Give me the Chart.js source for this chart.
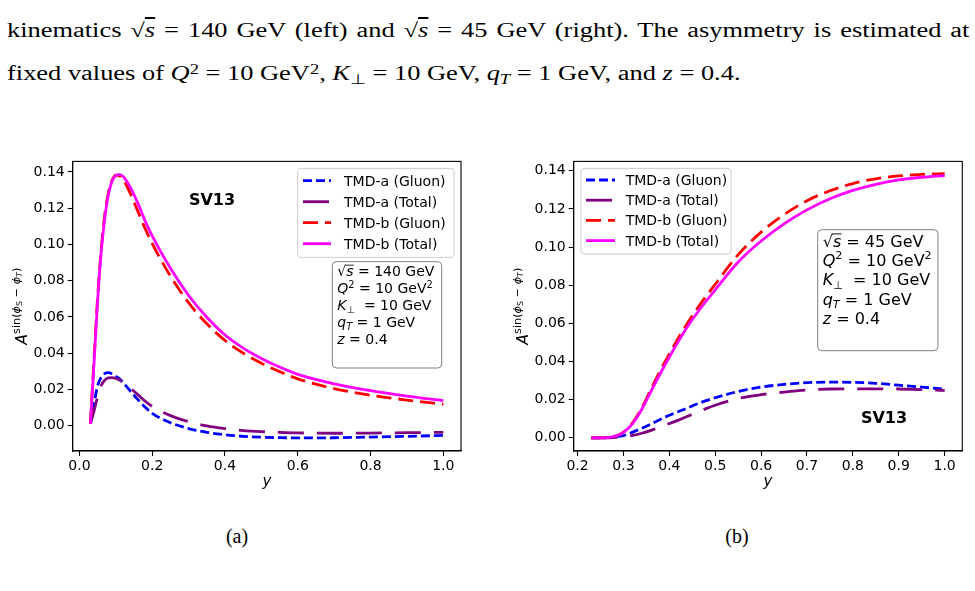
<!DOCTYPE html>
<html>
<head>
<meta charset="utf-8">
<script src="https://cdn.jsdelivr.net/npm/chart.js@4.4.1/dist/chart.umd.min.js"></script>
<style>
  body { margin: 0; background: #fff; width: 975px; height: 591px; overflow: hidden; position: relative; }
  .txt { position: absolute; left: 7px; white-space: nowrap; font-family: 'Liberation Serif', serif; font-size: 20px; line-height: 26px; color: #000; transform-origin: 0 0; }
  .txt sup { font-size: 70%; vertical-align: 0.45em; line-height: 0; }
  .txt sub { font-size: 70%; vertical-align: -0.25em; line-height: 0; }
  .ov { text-decoration: overline; }
  .cap { position: absolute; width: 80px; text-align: center; font-family: 'Liberation Serif', serif; font-size: 20px; line-height: 26px; }
  canvas { position: absolute; }
</style>
</head>
<body>
<div class="txt" id="line1" style="top:17px">kinematics √<span class="ov"><i>s</i></span> = 140 GeV (left) and √<span class="ov"><i>s</i></span> = 45 GeV (right). The asymmetry is estimated at</div>
<div class="txt" id="line2" style="top:60px">fixed values of <i>Q</i><sup>2</sup> = 10 GeV<sup>2</sup>, <i>K</i><sub>⊥</sub> = 10 GeV, <i>q</i><sub><i>T</i></sub> = 1 GeV, and <i>z</i> = 0.4.</div>

<canvas id="panelA" width="480" height="350" style="left:0;top:150px"></canvas>
<canvas id="panelB" width="485" height="350" style="left:490px;top:150px"></canvas>

<div class="cap" style="left:197px;top:523px">(a)</div>
<div class="cap" style="left:697px;top:523px">(b)</div>

<script>
// panel (a): sqrt(s) = 140 GeV
const yGridA = [0.03, 0.04, 0.05, 0.06, 0.07, 0.08, 0.09, 0.10, 0.11, 0.12, 0.14, 0.16, 0.18, 0.20, 0.25, 0.30, 0.35, 0.40, 0.45, 0.50, 0.55, 0.60, 0.70, 0.80, 0.90, 1.00]
const tmdaGluonA = [0.001, 0.012, 0.022, 0.0268, 0.0288, 0.0293, 0.0285, 0.0272, 0.0258, 0.0238, 0.0190, 0.0145, 0.0103, 0.0068, 0.0016, -0.0016, -0.0037, -0.0050, -0.0059, -0.0064, -0.0066, -0.0068, -0.0067, -0.0063, -0.0059, -0.0054]
const tmdaTotalA = [0.001, 0.008, 0.016, 0.0222, 0.0252, 0.0264, 0.0265, 0.0260, 0.0252, 0.0240, 0.0207, 0.0172, 0.0136, 0.0106, 0.0055, 0.0022, -0.0002, -0.0017, -0.0027, -0.0033, -0.0037, -0.0040, -0.0042, -0.0041, -0.0039, -0.0037]
const tmdbGluonA = [0.001, 0.036, 0.071, 0.098, 0.117, 0.129, 0.1355, 0.1382, 0.1378, 0.1358, 0.128, 0.1185, 0.109, 0.1005, 0.0825, 0.0678, 0.0562, 0.0470, 0.0400, 0.0344, 0.0298, 0.0258, 0.0204, 0.0168, 0.0141, 0.0118]
const tmdbTotalA = [0.001, 0.034, 0.069, 0.096, 0.115, 0.128, 0.135, 0.138, 0.1385, 0.1375, 0.1315, 0.123, 0.1132, 0.1047, 0.0868, 0.0718, 0.0598, 0.0500, 0.0428, 0.0371, 0.0323, 0.0283, 0.0231, 0.0193, 0.0163, 0.0138]

// panel (b): sqrt(s) = 45 GeV
const yGridB = [0.23, 0.25, 0.27, 0.29, 0.30, 0.32, 0.34, 0.36, 0.38, 0.40, 0.42, 0.44, 0.46, 0.48, 0.50, 0.55, 0.60, 0.65, 0.70, 0.75, 0.80, 0.85, 0.90, 0.95, 1.00]
const tmdaGluonB = [0.0, 0.0, 0.0002, 0.0008, 0.0012, 0.0030, 0.0050, 0.0073, 0.0096, 0.0118, 0.0138, 0.0157, 0.0177, 0.0195, 0.0210, 0.0243, 0.0266, 0.0280, 0.0289, 0.0292, 0.0291, 0.0286, 0.0276, 0.0266, 0.0255]
const tmdaTotalB = [0.0, 0.0, 0.0, 0.0003, 0.0006, 0.0013, 0.0024, 0.0039, 0.0057, 0.0075, 0.0093, 0.0113, 0.0133, 0.0153, 0.0171, 0.0206, 0.0226, 0.0240, 0.0251, 0.0256, 0.0257, 0.0257, 0.0256, 0.0253, 0.0248]
const tmdbGluonB = [0.0, 0.0, 0.0003, 0.0016, 0.0030, 0.0080, 0.0158, 0.0255, 0.0352, 0.0440, 0.0525, 0.0603, 0.0675, 0.0742, 0.0805, 0.0960, 0.1078, 0.1170, 0.1243, 0.1295, 0.1333, 0.1358, 0.1373, 0.1381, 0.1385]
const tmdbTotalB = [0.0, 0.0, 0.0003, 0.0015, 0.0029, 0.0075, 0.0150, 0.0244, 0.0336, 0.0424, 0.0507, 0.0585, 0.0653, 0.0716, 0.0776, 0.0922, 0.1032, 0.1122, 0.1195, 0.1253, 0.1297, 0.1329, 0.1352, 0.1366, 0.1375]

const seriesLabels = ['TMD-a (Gluon)', 'TMD-a (Total)', 'TMD-b (Gluon)', 'TMD-b (Total)']
const seriesColors = ['#0000ff', '#800080', '#ff0000', '#ff00ff']
const seriesDashes = [[9, 4], [26, 13], [15, 7], []]

const xTicksA = [0.0, 0.2, 0.4, 0.6, 0.8, 1.0]
const xTicksB = [0.2, 0.3, 0.4, 0.5, 0.6, 0.7, 0.8, 0.9, 1.0]
const yTicks = [0.00, 0.02, 0.04, 0.06, 0.08, 0.10, 0.12, 0.14]

const FONT = '"DejaVu Sans"'

function fontOf(r, size) {
  return (r.b ? 'bold ' : '') + (r.i ? 'italic ' : '') + (size * (r.s || 1)).toFixed(2) + 'px ' + FONT
}

function runsWidth(ctx, runs, size) {
  let w = 0
  for (const r of runs) { ctx.font = fontOf(r, size); w += ctx.measureText(r.t).width }
  return w
}

function drawRuns(ctx, x, y, runs, size) {
  let cx = x
  for (const r of runs) {
    ctx.font = fontOf(r, size)
    const w = ctx.measureText(r.t).width
    const yy = y + (r.dy || 0) * size
    ctx.fillText(r.t, cx, yy)
    if (r.bar) {
      ctx.save()
      ctx.lineWidth = size * 0.06
      ctx.beginPath()
      ctx.moveTo(cx - size * 0.05, yy - size * 0.8)
      ctx.lineTo(cx + w + size * 0.02, yy - size * 0.8)
      ctx.stroke()
      ctx.restore()
    }
    cx += w
  }
}

function infoLines(rootS) {
  return [
    [{ t: '√' }, { t: 's', i: 1, bar: 1 }, { t: ' = ' + rootS + ' GeV' }],
    [{ t: 'Q', i: 1 }, { t: '2', s: 0.7, dy: -0.42 }, { t: ' = 10 GeV' }, { t: '2', s: 0.7, dy: -0.42 }],
    [{ t: 'K', i: 1 }, { t: '⊥', s: 0.7, dy: 0.22 }, { t: '  = 10 GeV' }],
    [{ t: 'q', i: 1 }, { t: 'T', i: 1, s: 0.7, dy: 0.22 }, { t: ' = 1 GeV' }],
    [{ t: 'z', i: 1 }, { t: ' = 0.4' }]
  ]
}

const yTitleRuns = [
  { t: 'A', i: 1, s: 1.05 },
  { t: 'sin(', s: 0.75, dy: -0.45 },
  { t: 'ϕ', i: 1, s: 0.75, dy: -0.45 },
  { t: 'S', s: 0.53, dy: -0.32 },
  { t: ' − ', s: 0.75, dy: -0.45 },
  { t: 'ϕ', i: 1, s: 0.75, dy: -0.45 },
  { t: 'T', i: 1, s: 0.53, dy: -0.32 },
  { t: ')', s: 0.75, dy: -0.45 }
]

function roundBox(ctx, x, y, w, h, r, fill, stroke) {
  ctx.beginPath()
  ctx.roundRect(x, y, w, h, r)
  ctx.fillStyle = fill
  ctx.fill()
  ctx.strokeStyle = stroke
  ctx.lineWidth = 1
  ctx.stroke()
}

// frame, legend, parameter box, tag and axis titles, matplotlib style
const panelDecor = {
  id: 'panelDecor',
  afterDraw(chart, args, o) {
    const ctx = chart.ctx
    const a = chart.chartArea
    ctx.save()
    ctx.textBaseline = 'alphabetic'
    ctx.fillStyle = '#000'
    ctx.strokeStyle = '#000'

    // axes frame
    ctx.lineWidth = 1.1
    ctx.strokeRect(a.left, a.top, a.right - a.left, a.bottom - a.top)

    // legend
    const L = o.legend
    const lx = L.fromRight ? a.right - L.dx - L.w : a.left + L.dx
    const ly = a.top + L.dy
    roundBox(ctx, lx, ly, L.w, L.h, 3, 'rgba(255,255,255,0.8)', '#cccccc')
    chart.data.datasets.forEach((ds, i) => {
      const cy = ly + L.first + i * L.step
      ctx.save()
      ctx.strokeStyle = ds.borderColor
      ctx.lineWidth = ds.borderWidth
      ctx.setLineDash(ds.borderDash || [])
      ctx.beginPath()
      ctx.moveTo(lx + L.sx, cy)
      ctx.lineTo(lx + L.sx + L.sl, cy)
      ctx.stroke()
      ctx.restore()
      ctx.fillStyle = '#000'
      ctx.font = L.size + 'px ' + FONT
      ctx.fillText(ds.label, lx + L.tx, cy + L.size * 0.36)
    })

    // parameter box
    const B = o.info
    const bx = a.left + B.dx
    const by = a.top + B.dy
    roundBox(ctx, bx, by, B.w, B.h, 4, '#ffffff', '#808080')
    ctx.fillStyle = '#000'
    ctx.strokeStyle = '#000'
    infoLines(B.rootS).forEach((runs, i) => {
      drawRuns(ctx, bx + B.pad, by + B.first + i * B.step, runs, B.size)
    })

    // SV13 tag
    ctx.font = 'bold 16px ' + FONT
    ctx.textAlign = 'center'
    ctx.fillText('SV13', o.tag.x, o.tag.y)

    // x title
    ctx.font = 'italic 15px ' + FONT
    ctx.fillText('y', (a.left + a.right) / 2, o.xTitleY)
    ctx.textAlign = 'left'

    // y title, rotated
    ctx.translate(o.yTitleX, (a.top + a.bottom) / 2)
    ctx.rotate(-Math.PI / 2)
    const w = runsWidth(ctx, yTitleRuns, 15)
    drawRuns(ctx, -w / 2, 0, yTitleRuns, 15)
    ctx.restore()
  }
}

function makeDatasets(grid, cols) {
  return cols.map((vals, i) => ({
    label: seriesLabels[i],
    data: grid.map((g, k) => ({ x: g, y: vals[k] })),
    borderColor: seriesColors[i],
    borderDash: seriesDashes[i],
    borderWidth: 2.8,
    pointRadius: 0,
    fill: false,
    cubicInterpolationMode: 'monotone',
    order: 3 - i
  }))
}

function axis(min, max, ticks, digits, size, isX) {
  return {
    type: 'linear',
    min: min,
    max: max,
    afterBuildTicks: s => { s.ticks = ticks.map(v => ({ value: v })) },
    afterFit: s => { if (isX) s.height = size; else s.width = size },
    ticks: {
      font: { family: 'DejaVu Sans', size: 14 },
      color: '#000',
      padding: isX ? 2 : 3,
      maxRotation: 0,
      autoSkip: false,
      callback: v => Math.abs(v) < 1e-9 ? (0).toFixed(digits) : v.toFixed(digits)
    },
    grid: { drawOnChartArea: false, color: '#000', tickLength: 5, tickWidth: 1.1 },
    border: { color: '#000', width: 1.1 }
  }
}

function buildPanel(id, grid, cols, xr, xTicks, yr, yAxisW, padRight, decor) {
  return new Chart(document.getElementById(id), {
    type: 'line',
    data: { datasets: makeDatasets(grid, cols) },
    options: {
      responsive: false,
      animation: false,
      events: [],
      layout: { padding: { top: 10.7, right: padRight, left: 0, bottom: 0 } },
      plugins: { legend: { display: false }, tooltip: { enabled: false }, panelDecor: decor },
      scales: {
        x: axis(xr[0], xr[1], xTicks, 1, 49, true),
        y: axis(yr[0], yr[1], yTicks, 2, yAxisW, false)
      }
    },
    plugins: [panelDecor]
  })
}

buildPanel('panelA', yGridA, [tmdaGluonA, tmdaTotalA, tmdbGluonA, tmdbTotalA],
  [-0.0185, 1.0485], xTicksA, [-0.014, 0.1458], 72.7, 19, {
    legend: { fromRight: true, dx: 7, dy: 7, w: 156.3, h: 89, first: 12.3, step: 21, sx: 5.3, sl: 28, tx: 46.3, size: 14 },
    info: { rootS: '140', dx: 259.6, dy: 100.3, w: 109.4, h: 106.3, pad: 5, first: 14.7, step: 17, size: 14 },
    tag: { x: 212, y: 55 },
    xTitleY: 336,
    yTitleX: 27
  })

buildPanel('panelB', yGridB, [tmdaGluonB, tmdaTotalB, tmdbGluonB, tmdbTotalB],
  [0.1915, 1.0385], xTicksB, [-0.0069, 0.1449], 83.7, 12.7, {
    legend: { fromRight: false, dx: 7.3, dy: 7, w: 150, h: 85.6, first: 11.6, step: 20.2, sx: 5, sl: 29, tx: 44.7, size: 14 },
    info: { rootS: '45', dx: 244, dy: 68.3, w: 120.3, h: 121, pad: 5, first: 17, step: 19.3, size: 16 },
    tag: { x: 394, y: 272.7 },
    xTitleY: 336,
    yTitleX: 38
  })

// page text: fit line 2 to its width, then justify line 1 like LaTeX does
const l1 = document.getElementById('line1')
const l2 = document.getElementById('line2')
const k = 733 / l2.offsetWidth
const spaces = (l1.textContent.match(/ /g) || []).length
l1.style.wordSpacing = ((963 / k - l1.offsetWidth) / spaces) + 'px'
l1.style.transform = 'scaleX(' + k + ')'
l2.style.transform = 'scaleX(' + k + ')'
</script>
</body>
</html>
